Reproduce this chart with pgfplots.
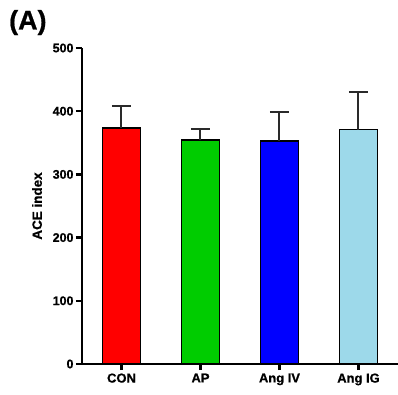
\documentclass[border=0pt]{standalone}
\usepackage{pgfplots}
\pgfplotsset{compat=1.18}
\usepackage{fontspec}
\setmainfont{Liberation Sans}[BoldFeatures={FakeBold=0.8}]
\definecolor{cred}{HTML}{FF0000}
\definecolor{cgreen}{HTML}{00CC00}
\definecolor{cblue}{HTML}{0000FF}
\definecolor{clight}{HTML}{9DD9EA}
\definecolor{ebar}{HTML}{2A2A2A}
\begin{document}
\begin{tikzpicture}
\begin{axis}[
  name=ax,
  scale only axis,
  width=316bp, height=316bp,
  xmin=-0.5, xmax=3.5,
  ymin=0, ymax=500,
  axis x line=bottom, axis y line=left,
  axis line style={-, line width=2.4bp, black},
  ytick={0,100,200,300,400,500},
  xtick={0,1,2,3},
  xticklabels={CON,AP,Ang IV,Ang IG},
  tick style={line width=2.4bp, black},
  major tick length=6bp,
  tick align=outside,
  /pgf/number format/assume math mode=true,
  yticklabel style={font=\fontsize{12.5}{14}\selectfont\bfseries, xshift=1bp},
  xticklabel style={font=\fontsize{13}{15}\selectfont\bfseries, yshift=0bp},
  ylabel={ACE index},
  ylabel style={font=\fontsize{13.5}{15}\selectfont\bfseries, at={(axis description cs:0,0.5)}, anchor=center, yshift=45bp},
  ybar, bar width=0.48, bar shift=0pt,
  clip=false,
  every axis plot/.append style={draw=black, line width=1.8bp},
  error bars/y dir=plus, error bars/y explicit,
  error bars/error mark options={rotate=90, mark size=9.5bp, line width=2bp, draw=ebar},
  error bars/error bar style={line width=2bp, draw=ebar},
]
\addplot[fill=cred] coordinates {(0,374) +- (0,34)};
\addplot[fill=cgreen] coordinates {(1,354) +- (0,18)};
\addplot[fill=cblue] coordinates {(2,353) +- (0,45)};
\addplot[fill=clight] coordinates {(3,371) +- (0,59)};
\end{axis}
\node[anchor=base west, inner sep=0pt, font=\fontsize{27}{30}\selectfont\bfseries] at ([xshift=-73bp,yshift=18.5bp]ax.north west) {(A)};
\pgfresetboundingbox
\path[use as bounding box] ([xshift=-82bp,yshift=-31bp]ax.south west) rectangle ([yshift=48bp]ax.north east);
\end{tikzpicture}
\end{document}
